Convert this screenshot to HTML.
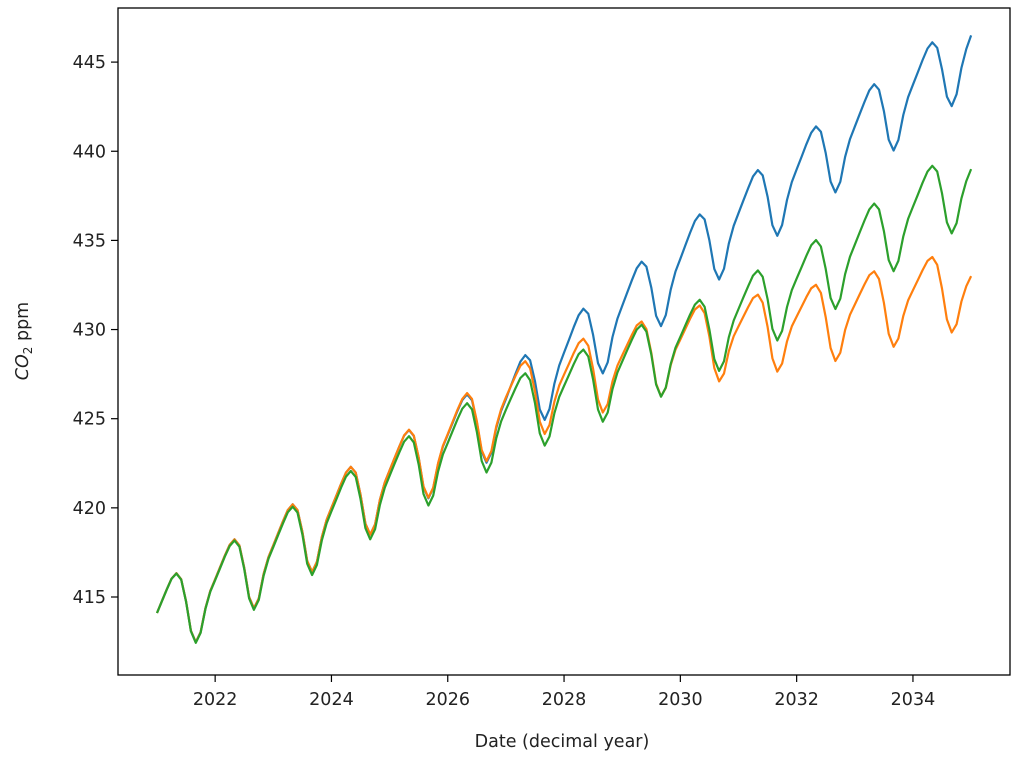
<!DOCTYPE html>
<html><head><meta charset="utf-8"><style>
html,body{margin:0;padding:0;background:#fff;}
svg{display:block;font-family:"DejaVu Sans","Liberation Sans",sans-serif;}
</style></head><body>
<svg id="s" width="1024" height="765" viewBox="0 0 1024 765" xmlns="http://www.w3.org/2000/svg">
<rect x="0" y="0" width="1024" height="765" fill="#fff"/>
<g id="lines"></g>
<rect x="118" y="8" width="892" height="667" fill="none" stroke="#000" stroke-width="1.3"/>
<g id="ticks" font-size="17.5" fill="#222"></g>
<text x="562" y="747" font-size="17.5" text-anchor="middle" fill="#222">Date (decimal year)</text>
<text transform="translate(28,341) rotate(-90)" font-size="17.5" text-anchor="middle" fill="#222"><tspan font-style="italic">CO</tspan><tspan font-size="12" dy="4">2</tspan><tspan dy="-4"> ppm</tspan></text>
</svg>
<script>
const X=t=>157+(t-2021)*58.15, Y=v=>597-(v-415)*17.83;
const NS="http://www.w3.org/2000/svg";
const tk=document.getElementById('ticks');
function el(n,a,p,txt){const e=document.createElementNS(NS,n);for(const k in a)e.setAttribute(k,a[k]);if(txt)e.textContent=txt;p.appendChild(e);return e;}
for(let y=2022;y<=2034;y+=2){const x=X(y);el('line',{x1:x,x2:x,y1:675,y2:682,stroke:'#000','stroke-width':1.2},tk);el('text',{x:x,y:705,'text-anchor':'middle'},tk,String(y));}
for(let v=415;v<=445;v+=5){const y=Y(v);el('line',{x1:111,x2:118,y1:y,y2:y,stroke:'#000','stroke-width':1.2},tk);el('text',{x:106,y:y+6,'text-anchor':'end'},tk,String(v));}
const cyc=[0.5,1.0,1.5,1.95,2.1,1.6,0.2,-1.6,-2.4,-2.0,-0.8,0.0];
function s(f){const m=f*12,i=Math.floor(m)%12,j=(i+1)%12,r=m-Math.floor(m);return cyc[i]*(1-r)+cyc[j]*r;}
function interp(k,t){for(let i=0;i<k.length-1;i++){if(t<=k[i+1][0]){const r=(t-k[i][0])/(k[i+1][0]-k[i][0]);return k[i][1]+(k[i+1][1]-k[i][1])*r;}}return k[k.length-1][1];}
const series=[
 ['#1f77b4',[[2021,413.6],[2023,417.4],[2025,421.6],[2027,425.6],[2028.5,429.5],[2030.5,434.8],[2032.5,439.7],[2034.5,444.4],[2035,446.0]]],
 ['#ff7f0e',[[2021,413.6],[2023,417.4],[2025,421.6],[2027,425.7],[2028.5,427.6],[2030.5,429.4],[2032.5,430.5],[2035,432.5]]],
 ['#2ca02c',[[2021,413.6],[2023,417.3],[2025,421.3],[2027,425.0],[2028.5,427.0],[2030.5,429.8],[2032.5,433.2],[2035,438.5]]]
];
const g=document.getElementById('lines');
for(const [c,k] of series){let pts=[];for(let i=0;i<=168;i++){const t=2021+i/12;const f=t-Math.floor(t);pts.push(X(t).toFixed(1)+','+Y(interp(k,t)+s(f)).toFixed(1));}
el('polyline',{points:pts.join(' '),fill:'none',stroke:c,'stroke-width':2.2,'stroke-linejoin':'round'},g);}
</script>
</body></html>
